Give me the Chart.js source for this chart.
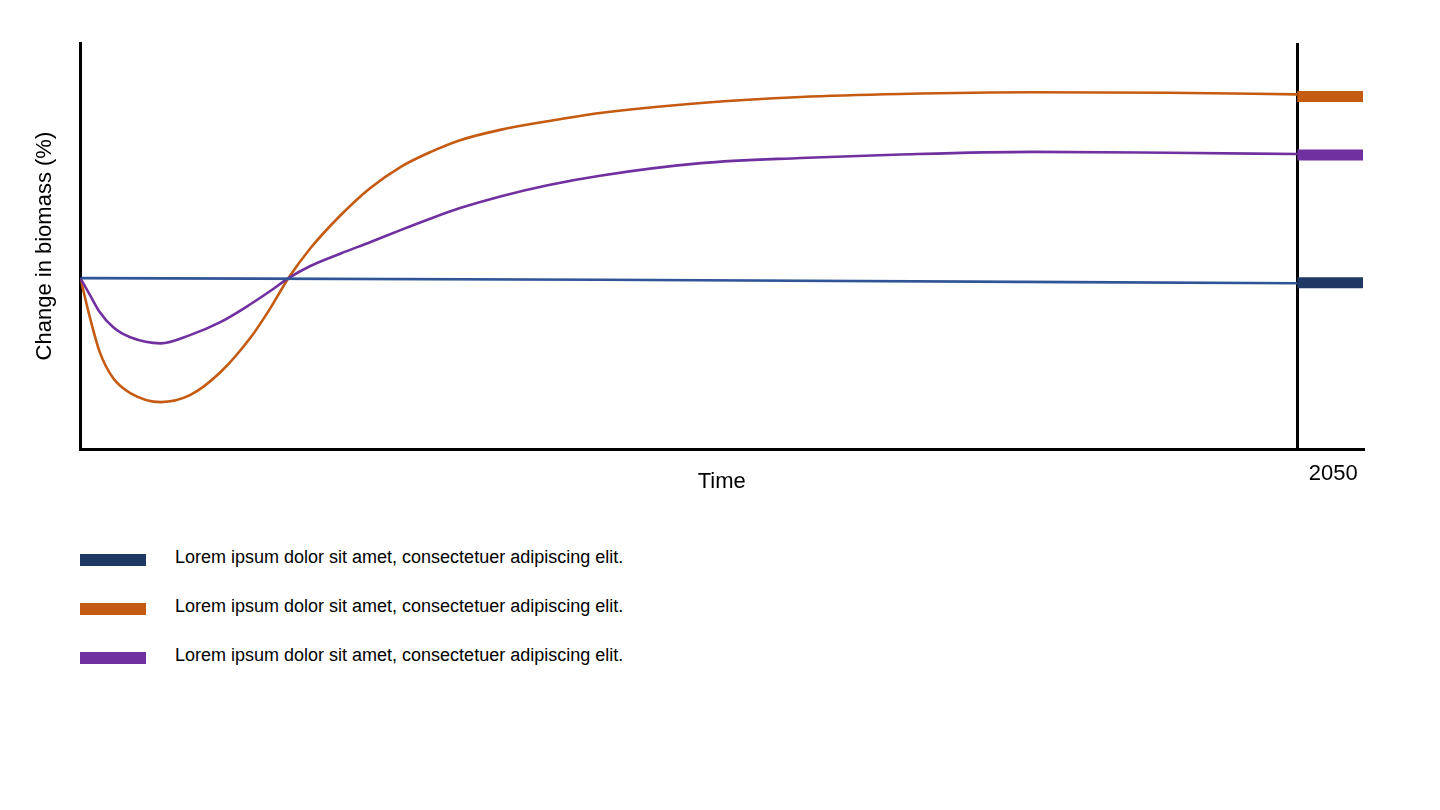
<!DOCTYPE html>
<html lang="en">
<head>
    <meta charset="UTF-8">
    <title>Change in biomass</title>
    <script src="https://cdn.jsdelivr.net/npm/chart.js@4.4.3/dist/chart.umd.min.js"></script>
    <style>
        body { margin: 0; background: #fff; font-family: "Liberation Sans", Arial, sans-serif; }
        #wrap { position: relative; width: 1440px; height: 810px; }
        #chartBox { position: absolute; left: 0; top: 0; width: 1440px; height: 520px; }
        .legend-row { position: absolute; left: 80px; height: 20px; }
        .legend-row span.bar { position: absolute; left: 0; top: 7px; width: 66px; height: 12px; }
        .legend-row span.txt { position: absolute; left: 95px; top: 0; font-size: 18px; line-height: 20px; white-space: nowrap; color: #000; }
    </style>
</head>
<body>
    <div id="wrap">
        <div id="chartBox"><canvas id="chart"></canvas></div>
        <div id="legend"></div>
    </div>

    <script>
        // tiempo: 0 = inicio, 100 = 2050
        const times = [0, 0.8, 1.6, 2.7, 4.1, 6.6, 9, 11.5, 14, 15.6, 17.1, 18.9, 21.4, 23.8, 26.3, 28.8, 31.2, 34.5, 38.4, 42.7, 51, 59.2, 67.4, 78.3, 89.3, 100];
        const orangeValues = [-0.4, -9.7, -17.6, -23.6, -27.0, -29.1, -27.5, -22.2, -14.1, -7.4, -0.4, 6.5, 14.2, 20.4, 25.3, 28.8, 31.5, 33.9, 35.9, 37.8, 40.1, 41.5, 42.2, 42.6, 42.5, 42.1];
        const purpleValues = [-0.4, -4.4, -8.3, -11.8, -14.1, -15.5, -13.6, -10.6, -6.4, -3.4, -0.4, 2.4, 5.3, 7.9, 10.7, 13.4, 15.8, 18.5, 21.1, 23.3, 26.2, 27.4, 28.2, 28.8, 28.6, 28.3];
        const blueTimes = [0, 42.7, 100];
        const blueValues = [-0.4, -0.8, -1.6];

        // marcas gruesas a la derecha de 2050
        const endValues = [-1.5, 41.6, 28.1];
        const endRange = [100, 105.4];

        const xTickValues = [100];
        const xTickLabels = ['2050'];

        const legendLabels = [
            'Lorem ipsum dolor sit amet, consectetuer adipiscing elit.',
            'Lorem ipsum dolor sit amet, consectetuer adipiscing elit.',
            'Lorem ipsum dolor sit amet, consectetuer adipiscing elit.'
        ];

        const navy = '#203864';
        const blueLine = '#2F5597';
        const orange = '#C55A11';
        const purple = '#7030A0';
        const markerColors = [navy, orange, purple];

        const toPoints = (xs, ys) => xs.map((x, i) => ({ x: x, y: ys[i] }));

        Chart.defaults.font.family = '"Liberation Sans", Arial, sans-serif';
        Chart.defaults.color = '#000';

        const lineStyle = {
            borderWidth: 2.6,
            pointRadius: 0,
            cubicInterpolationMode: 'monotone',
            fill: false
        };

        const datasets = [
            { ...lineStyle, data: toPoints(blueTimes, blueValues), borderColor: blueLine },
            { ...lineStyle, data: toPoints(times, purpleValues), borderColor: purple },
            { ...lineStyle, data: toPoints(times, orangeValues), borderColor: orange }
        ];

        endValues.forEach((v, i) => {
            datasets.push({
                data: toPoints(endRange, [v, v]),
                borderColor: markerColors[i],
                borderWidth: 11,
                borderCapStyle: 'butt',
                pointRadius: 0
            });
        });

        new Chart(document.getElementById('chart'), {
            type: 'line',
            data: { datasets: datasets },
            options: {
                responsive: true,
                maintainAspectRatio: false,
                animation: false,
                layout: { padding: { top: 43, right: 77, bottom: 21, left: 0 } },
                plugins: {
                    legend: { display: false },
                    tooltip: { enabled: false }
                },
                scales: {
                    x: {
                        type: 'linear',
                        min: 0,
                        max: 105.4,
                        afterBuildTicks: (axis) => {
                            axis.ticks = xTickValues.map(v => ({ value: v }));
                        },
                        ticks: {
                            callback: (value) => xTickLabels[xTickValues.indexOf(value)],
                            font: { size: 22 },
                            padding: 12,
                            labelOffset: 36,
                            maxRotation: 0
                        },
                        grid: { display: true, drawTicks: false, color: '#000', lineWidth: 3 },
                        border: { display: true, color: '#000', width: 3 },
                        title: { display: true, text: 'Time', font: { size: 22 }, padding: { top: -31, bottom: 4 } }
                    },
                    y: {
                        min: -40,
                        max: 54,
                        ticks: { display: false },
                        grid: { display: false, drawTicks: false },
                        border: { display: true, color: '#000', width: 3 },
                        title: { display: true, text: 'Change in biomass (%)', font: { size: 22 }, padding: { top: 32, bottom: 22 } }
                    }
                }
            }
        });

        // Leyenda
        const legendEl = document.getElementById('legend');
        const legendTops = [547, 596, 645];
        legendLabels.forEach((label, i) => {
            const row = document.createElement('div');
            row.className = 'legend-row';
            row.style.top = legendTops[i] + 'px';
            row.innerHTML = '<span class="bar" style="background:' + markerColors[i] + '"></span><span class="txt">' + label + '</span>';
            legendEl.appendChild(row);
        });
    </script>
</body>
</html>
